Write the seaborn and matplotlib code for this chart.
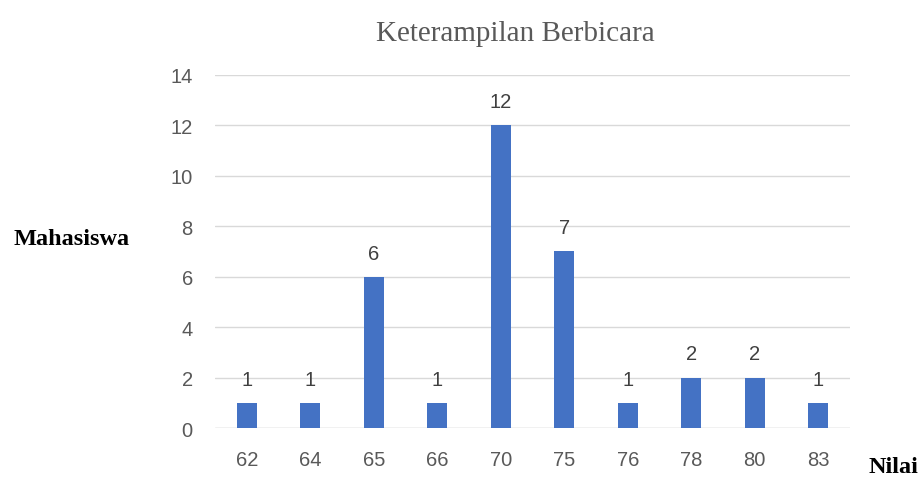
import matplotlib
matplotlib.use("Agg")
import matplotlib.pyplot as plt
import seaborn as sns
import pandas as pd

categories = ["62", "64", "65", "66", "70", "75", "76", "78", "80", "83"]
counts = [1, 1, 6, 1, 12, 7, 1, 2, 2, 1]
yticks = [0, 2, 4, 6, 8, 10, 12, 14]

df = pd.DataFrame({"Nilai": categories, "Mahasiswa": counts})

sns.set_theme(style="white")
fig = plt.figure(figsize=(9.22, 4.81), dpi=100)
ax = fig.add_axes([0.2332, 0.1081, 0.6887, 0.734])

sns.barplot(data=df, x="Nilai", y="Mahasiswa", color="#4472C4", width=0.31,
            saturation=1, ax=ax, zorder=3, linewidth=0)

ax.set_ylim(0, 14)
ax.set_xlim(-0.5, 9.5)
ax.set_yticks(yticks)
ax.yaxis.grid(True, color="#D9D9D9", linewidth=1, zorder=0)
for s in ax.spines.values():
    s.set_visible(False)
ax.axhline(0, color="#D9D9D9", linewidth=1, zorder=1)

sans = ["Liberation Sans", "DejaVu Sans"]
serif = ["Liberation Serif", "DejaVu Serif"]
ax.tick_params(axis="both", length=0, labelsize=14.5, labelcolor="#595959")
ax.tick_params(axis="x", pad=16)
ax.tick_params(axis="y", pad=16)
for lab in ax.get_xticklabels() + ax.get_yticklabels():
    lab.set_family(sans)

for i, v in enumerate(counts):
    ax.text(i, v + 0.72, str(v), ha="center", va="baseline", fontsize=14.5,
            color="#404040", family=sans)

ax.set_xlabel("")
ax.set_ylabel("")
fig.text(0.5586, 0.915, "Keterampilan Berbicara", ha="center", va="baseline",
         fontsize=21, color="#595959", family=serif)
fig.text(0.0152, 0.491, "Mahasiswa", ha="left", va="baseline",
         fontsize=17.5, fontweight="bold", color="black", family=serif)
fig.text(0.996, 0.016, "Nilai", ha="right", va="baseline",
         fontsize=17.5, fontweight="bold", color="black", family=serif)

fig.savefig("out.png", dpi=100)
